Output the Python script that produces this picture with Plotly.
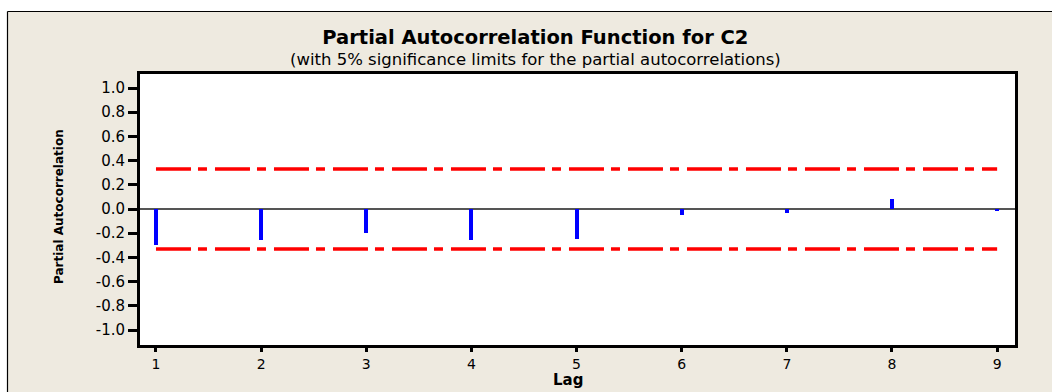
import plotly.graph_objects as go

# ---- data ----
lags = [1, 2, 3, 4, 5, 6, 7, 8, 9]
pacf = [-0.30, -0.26, -0.20, -0.26, -0.25, -0.05, -0.03, 0.08, -0.01]
sig_limit = 0.33
y_ticks = [-1.0, -0.8, -0.6, -0.4, -0.2, 0.0, 0.2, 0.4, 0.6, 0.8, 1.0]
title_text = "Partial Autocorrelation Function for C2"
subtitle_text = "(with 5% significance limits for the partial autocorrelations)"
x_title = "Lag"
y_title = "Partial Autocorrelation"

W, H = 1052, 392
ML, MR, MT, MB = 140, 37, 74, 47
PW, PH = W - ML - MR, H - MT - MB


def px_x(p):
    return (p - ML) / PW


def px_y(p):
    return (H - MB - p) / PH


FONT = "DejaVu Sans"
BEIGE = "#EEEAE0"

fig = go.Figure()

fig.add_trace(go.Bar(x=lags, y=pacf, width=0.037,
                     marker=dict(color="#0000FF", line=dict(width=0)),
                     showlegend=False, hoverinfo="x+y"))

for s in (1, -1):
    fig.add_trace(go.Scatter(x=[lags[0], lags[-1]], y=[s * sig_limit] * 2,
                             mode="lines",
                             line=dict(color="#FF0000", width=3.5,
                                       dash="35px,7px,9px,8px"),
                             showlegend=False, hoverinfo="skip"))

fig.update_layout(
    width=W, height=H,
    margin=dict(l=ML, r=MR, t=MT, b=MB, pad=0),
    paper_bgcolor=BEIGE,
    plot_bgcolor="white",
    font=dict(family=FONT, color="black"),
    bargap=0,
    xaxis=dict(range=[0.848, 9.17], tickvals=lags,
               ticktext=[str(v) for v in lags],
               showgrid=False, zeroline=False,
               showline=True, linecolor="black", linewidth=3, mirror=True,
               ticks="outside", ticklen=4, tickwidth=3, tickcolor="black",
               ticklabelstandoff=0,
               tickfont=dict(family=FONT, size=14, color="black")),
    yaxis=dict(range=[-1.124, 1.116], tickvals=y_ticks,
               ticktext=[f"{v:.1f}" for v in y_ticks],
               showgrid=False, zeroline=True, zerolinecolor="#555555",
               zerolinewidth=2,
               showline=True, linecolor="black", linewidth=3, mirror=True,
               ticks="outside", ticklen=9, tickwidth=3, tickcolor="black",
               tickfont=dict(family=FONT, size=15, color="black")),
    shapes=[
        # white strips outside the beige panel
        dict(type="rect", xref="paper", yref="paper",
             x0=px_x(-5), x1=px_x(W + 5), y0=px_y(11), y1=px_y(-5),
             fillcolor="white", line=dict(width=0), layer="above"),
        dict(type="rect", xref="paper", yref="paper",
             x0=px_x(-5), x1=px_x(7.5), y0=px_y(H + 5), y1=px_y(-5),
             fillcolor="white", line=dict(width=0), layer="above"),
        dict(type="line", xref="paper", yref="paper",
             x0=px_x(7.5), x1=px_x(W + 5), y0=px_y(11.5), y1=px_y(11.5),
             line=dict(color="black", width=1.2), layer="above"),
        dict(type="line", xref="paper", yref="paper",
             x0=px_x(7.5), x1=px_x(7.5), y0=px_y(11.5), y1=px_y(H + 5),
             line=dict(color="black", width=1.2), layer="above"),
    ],
    annotations=[
        dict(text=(f"<span style='font-size:19.5px'><b>{title_text}</b></span><br>"
                   f"<span style='font-size:16.5px'>{subtitle_text}</span>"),
             xref="paper", yref="paper",
             x=px_x(535), y=px_y(47), xanchor="center", yanchor="middle",
             showarrow=False, font=dict(family=FONT, size=16, color="black")),
        dict(text=f"<b>{x_title}</b>", xref="paper", yref="paper",
             x=px_x(568), y=px_y(380), xanchor="center", yanchor="middle",
             showarrow=False, font=dict(family=FONT, size=15, color="black")),
        dict(text=f"<b>{y_title}</b>", xref="paper", yref="paper",
             x=px_x(59), y=px_y(207), xanchor="center", yanchor="middle",
             textangle=-90, showarrow=False,
             font=dict(family=FONT, size=12, color="black")),
    ],
)

fig.write_html("out.html")
